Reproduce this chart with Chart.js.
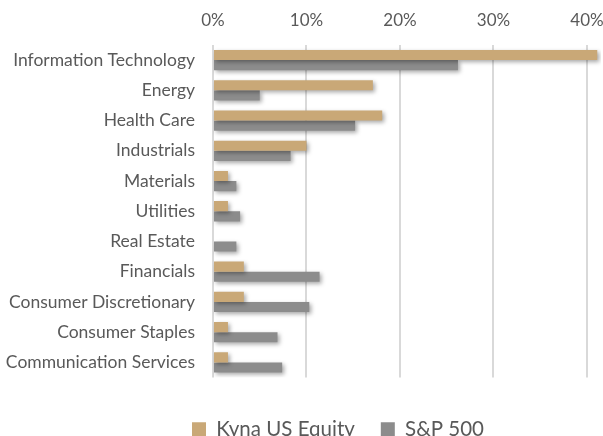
<!DOCTYPE html>
<html>
<head>
<meta charset="utf-8">
<script src="https://cdn.jsdelivr.net/npm/chart.js@4.4.1/dist/chart.umd.min.js"></script>
<style>
  html, body { margin: 0; padding: 0; background: #fff; }
  #wrap { width: 603px; height: 436px; }
</style>
</head>
<body>
<div id="wrap"><canvas id="chart" width="603" height="436"></canvas></div>
<script>
// sectors, top to bottom
const categories = [
  'Information Technology', 'Energy', 'Health Care', 'Industrials',
  'Materials', 'Utilities', 'Real Estate', 'Financials',
  'Consumer Discretionary', 'Consumer Staples', 'Communication Services'
];
// weights in %
const kynaValues = [41.1, 17.1, 18.1, 10.0, 1.6, 1.6, 0, 3.3, 3.3, 1.6, 1.6];
const spValues = [26.2, 5.0, 15.2, 8.3, 2.5, 2.9, 2.5, 11.4, 10.3, 6.9, 7.4];
const tickValues = [0, 10, 20, 30, 40];

const textGrey = '#595959';
const fontFamily = 'Lato, "Open Sans", sans-serif';

// soft drop shadow under the bars, like the Excel original
const barShadow = {
  id: 'barShadow',
  beforeDatasetsDraw(chart) {
    const ctx = chart.ctx;
    ctx.save();
    ctx.shadowColor = 'rgba(0,0,0,0.35)';
    ctx.shadowBlur = 4;
    ctx.shadowOffsetX = 2;
    ctx.shadowOffsetY = 2;
  },
  afterDatasetsDraw(chart) {
    chart.ctx.restore();
  }
};

// put the legend where the reference has it
const placeLegend = {
  id: 'placeLegend',
  afterLayout(chart) {
    const lg = chart.legend;
    const pad = lg.options.labels.padding;
    const dy = 429 - (lg.top + pad + 10);
    lg.top += dy;
    lg.bottom += dy;
    const dx = 192 - (lg.left + pad);
    lg.left += dx;
    lg.right += dx;
  }
};

const ctx = document.getElementById('chart').getContext('2d');
new Chart(ctx, {
  type: 'bar',
  data: {
    labels: categories,
    datasets: [
      {
        label: 'Kyna US Equity',
        data: kynaValues,
        backgroundColor: '#c9a877',
        borderWidth: 0,
        categoryPercentage: 0.67,
        barPercentage: 1.0
      },
      {
        label: 'S&P 500',
        data: spValues,
        backgroundColor: '#8c8c8c',
        borderWidth: 0,
        categoryPercentage: 0.67,
        barPercentage: 1.0
      }
    ]
  },
  options: {
    indexAxis: 'y',
    responsive: false,
    animation: false,
    layout: { padding: { top: 0, left: 0, right: 2, bottom: 2 } },
    scales: {
      x: {
        position: 'top',
        min: 0,
        max: 41.5,
        afterBuildTicks(axis) {
          axis.ticks = tickValues.map(v => ({ value: v }));
        },
        afterFit(axis) {
          axis.height = 45;
          axis.paddingLeft = 0;
          axis.paddingRight = 0;
        },
        border: { display: false },
        grid: { color: '#d9d9d9', lineWidth: 2, drawTicks: false },
        ticks: {
          padding: 14,
          color: textGrey,
          font: { family: fontFamily, size: 17 },
          callback: v => v + '%'
        }
      },
      y: {
        afterFit(axis) { axis.width = 213; },
        border: { display: false },
        grid: { display: false, drawTicks: false },
        ticks: {
          padding: 18,
          color: textGrey,
          font: { family: fontFamily, size: 17.5 }
        }
      }
    },
    plugins: {
      legend: {
        position: 'bottom',
        align: 'start',
        labels: {
          padding: 26,
          boxWidth: 14,
          boxHeight: 14,
          color: textGrey,
          font: { family: fontFamily, size: 20.5 }
        }
      },
      tooltip: { enabled: false }
    }
  },
  plugins: [barShadow, placeLegend]
});
</script>
</body>
</html>
